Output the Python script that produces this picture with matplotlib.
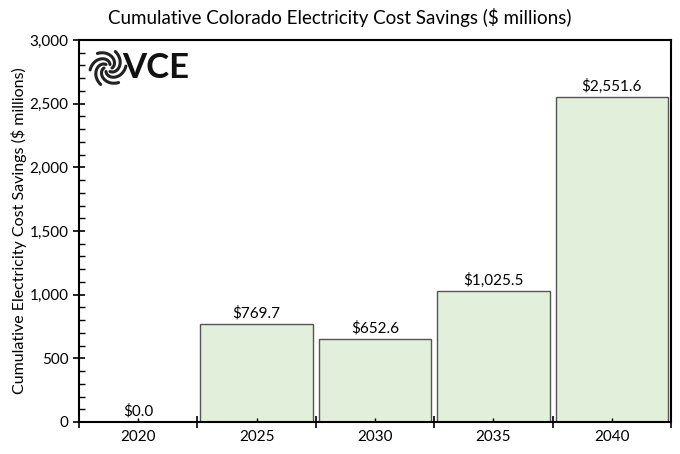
import numpy as np
import matplotlib
matplotlib.use("Agg")
import matplotlib.pyplot as plt
from matplotlib.ticker import MultipleLocator, FixedLocator, NullFormatter, FixedFormatter, FuncFormatter

years = ["2020", "2025", "2030", "2035", "2040"]
savings = [0.0, 769.7, 652.6, 1025.5, 2551.6]
labels = ["$0.0", "$769.7", "$652.6", "$1,025.5", "$2,551.6"]

plt.rcParams["font.family"] = ["Lato", "DejaVu Sans"]

fig = plt.figure(figsize=(6.8, 4.54), dpi=100)
ax = fig.add_axes([0.1162, 0.0705, 0.8706, 0.8414])

x = np.arange(len(years))
ax.bar(x, savings, width=0.95, color="#E2EFDA", edgecolor="#555555", linewidth=1.0)
for xi, v, lab in zip(x, savings, labels):
    ax.text(xi, v + 25, lab, ha="center", va="bottom", fontsize=11)

ax.set_xlim(-0.5, len(years) - 0.5)
ax.set_ylim(0, 3000)

# x: boundary ticks crossing, labels at centers
ax.xaxis.set_major_locator(FixedLocator(np.arange(len(years) + 1) - 0.5))
ax.xaxis.set_major_formatter(NullFormatter())
ax.xaxis.set_minor_locator(FixedLocator(x))
ax.xaxis.set_minor_formatter(FixedFormatter(years))
ax.tick_params(axis="x", which="major", direction="inout", length=9, width=1.2)
ax.tick_params(axis="x", which="minor", direction="in", length=3, width=1.0,
               labelsize=11, pad=6)

ax.yaxis.set_major_locator(MultipleLocator(500))
ax.yaxis.set_minor_locator(MultipleLocator(100))
ax.yaxis.set_major_formatter(FuncFormatter(lambda v, p: f"{v:,.0f}"))
ax.tick_params(axis="y", which="major", direction="inout", length=8, width=1.2, labelsize=11)
ax.tick_params(axis="y", which="minor", direction="in", length=4, width=1.0)

for s in ax.spines.values():
    s.set_linewidth(1.5)
    s.set_color("black")

ax.set_ylabel("Cumulative Electricity Cost Savings ($ millions)", fontsize=11.5, labelpad=2)
fig.text(0.5, 0.962, "Cumulative Colorado Electricity Cost Savings ($ millions)",
         ha="center", va="center", fontsize=13.5)

# VCE logo: swirl blades + text (decoration, in pixel coords)
cx, cy = 108, 454 - 68
t = np.linspace(0, 1, 40)
for k in range(6):
    a0 = k * np.pi / 3
    r = 4 + 14 * t
    th = a0 + 2.2 * t
    px = cx + r * np.cos(th)
    py = cy + r * np.sin(th)
    fig.add_artist(plt.Line2D(px / 680, py / 454, transform=fig.transFigure,
                              color="#222222", lw=2.2, solid_capstyle="round"))
fig.text(0.180, 0.851, "VCE", fontsize=25, fontweight="bold", ha="left", va="center",
         color="#111111")

fig.savefig("out.png", dpi=100)
